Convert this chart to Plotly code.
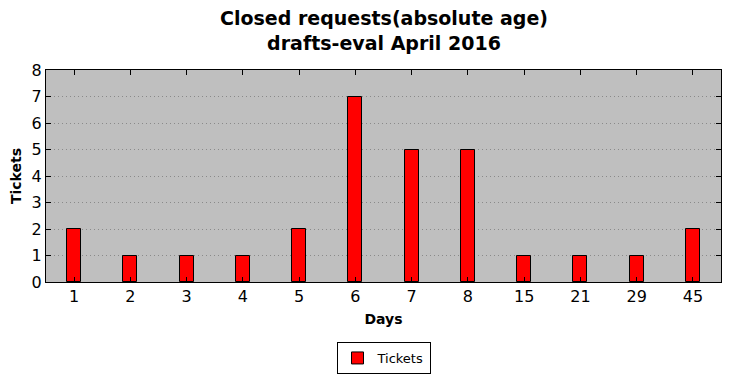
import plotly.graph_objects as go

days = ["1", "2", "3", "4", "5", "6", "7", "8", "15", "21", "29", "45"]
tickets = [2, 1, 1, 1, 2, 7, 5, 5, 1, 1, 1, 2]
y_ticks = [0, 1, 2, 3, 4, 5, 6, 7, 8]

fig = go.Figure()
fig.add_trace(go.Bar(
    x=days, y=tickets, name="Tickets",
    marker=dict(color="#ff0000", line=dict(color="black", width=1)),
    width=0.25, showlegend=True,
))

font = "DejaVu Sans"
fig.update_layout(
    width=731, height=378,
    margin=dict(l=46, r=10, t=70, b=96, autoexpand=False),
    paper_bgcolor="white", plot_bgcolor="#bfbfbf",
    font=dict(family=font, color="black"),
    xaxis=dict(
        type="category", range=[-0.5, 11.5],
        showline=True, linecolor="black", linewidth=1, mirror="ticks",
        ticks="inside", ticklen=5, tickcolor="black",
        showgrid=False, tickfont=dict(size=16),
        title=dict(text="<b>Days</b>", font=dict(size=14), standoff=8),
    ),
    yaxis=dict(
        range=[0, 8], tickvals=y_ticks,
        showline=True, linecolor="black", linewidth=1, mirror="ticks",
        ticks="inside", ticklen=5, tickcolor="black",
        showgrid=True, gridcolor="#8a8a8a", griddash="1px,3px", gridwidth=1,
        zeroline=False, tickfont=dict(size=16),
        title=dict(text="<b>Tickets</b>", font=dict(size=14), standoff=6),
    ),
    legend=dict(
        orientation="h", x=0.5, xanchor="center",
        yref="container", y=1 - 342 / 378, yanchor="top",
        bgcolor="white", bordercolor="black", borderwidth=1,
        font=dict(size=13),
    ),
    annotations=[dict(
        text="<b>Closed requests(absolute age)<br>drafts-eval April 2016</b>",
        xref="paper", yref="paper", x=0.5, y=(282 - 30) / 212,
        xanchor="center", yanchor="middle", showarrow=False,
        font=dict(size=19, family=font),
    )],
    bargap=0,
)

fig.write_html("out.html")
